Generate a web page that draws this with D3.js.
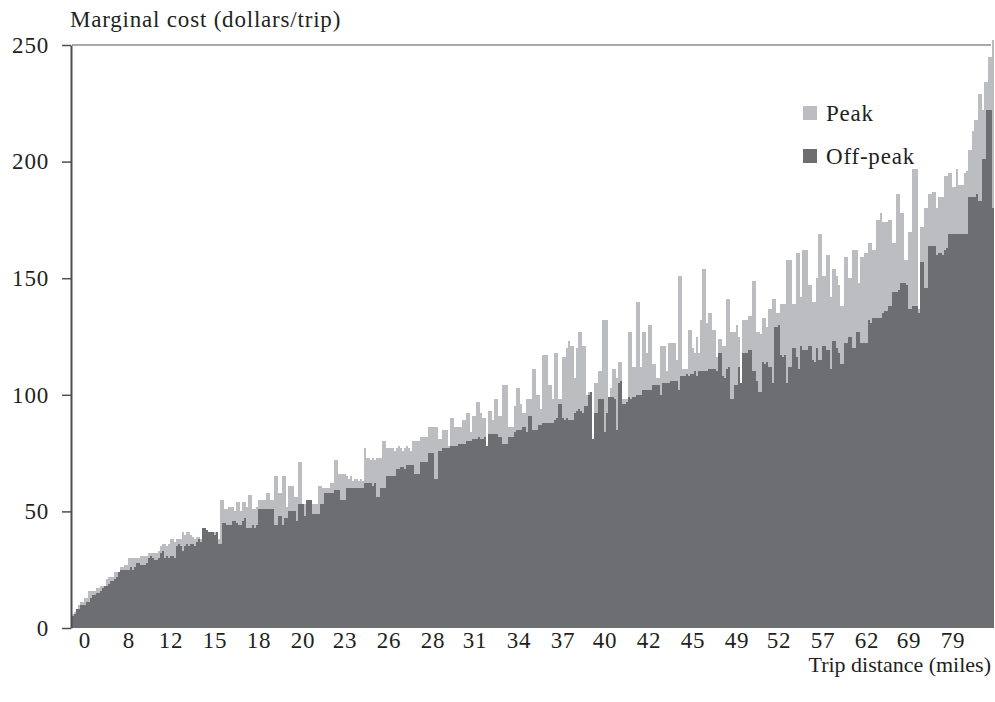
<!DOCTYPE html>
<html>
<head>
<meta charset="utf-8">
<script src="https://cdn.jsdelivr.net/npm/d3@7"></script>
<style>
  body { margin: 0; background: #fff; }
  text { font-family: "Liberation Serif", "DejaVu Serif", serif; fill: #231f20; }
</style>
</head>
<body>
<div id="chart"></div>
<script>
// marginal cost per trip, one bar per trip, sorted by distance
const peak = [
  6, 7, 8, 10, 11, 11, 13, 13, 16, 16,
  16, 16, 17, 17, 18, 18, 18, 21, 22, 22,
  22, 24, 24, 24, 26, 26, 27, 27, 30, 30,
  30, 30, 30, 30, 31, 31, 31, 31, 32, 32,
  32, 32, 32, 33, 35, 36, 36, 35, 36, 38,
  38, 37, 38, 38, 38, 41, 40, 41, 41, 40,
  39, 38, 39, 39, 38, 43, 43, 42, 41, 41,
  41, 41, 41, 38, 55, 55, 51, 51, 52, 52,
  52, 50, 54, 54, 50, 54, 54, 52, 57, 57,
  51, 51, 52, 55, 55, 55, 55, 58, 58, 55,
  55, 65, 65, 58, 58, 65, 65, 52, 61, 61,
  61, 56, 56, 71, 71, 53, 53, 55, 55, 55,
  53, 53, 53, 61, 61, 60, 60, 60, 60, 62,
  62, 72, 72, 66, 66, 66, 66, 65, 64, 65,
  63, 64, 64, 63, 64, 63, 77, 73, 73, 72,
  73, 72, 73, 73, 73, 80, 80, 77, 77, 77,
  77, 76, 77, 78, 77, 76, 77, 78, 77, 76,
  80, 80, 80, 80, 82, 82, 82, 82, 86, 86,
  86, 86, 86, 81, 81, 85, 85, 85, 78, 90,
  90, 86, 86, 86, 86, 89, 89, 92, 92, 84,
  91, 91, 97, 97, 92, 90, 90, 78, 93, 93,
  89, 98, 98, 91, 91, 104, 104, 104, 86, 86,
  86, 95, 103, 103, 96, 92, 92, 98, 98, 98,
  111, 111, 100, 100, 94, 117, 117, 117, 104, 104,
  98, 118, 118, 98, 98, 116, 116, 120, 123, 121,
  121, 107, 120, 127, 127, 121, 121, 100, 101, 101,
  81, 105, 105, 110, 110, 132, 132, 132, 99, 103,
  111, 111, 107, 114, 114, 98, 98, 98, 127, 127,
  112, 112, 140, 140, 112, 127, 127, 118, 130, 130,
  113, 113, 107, 107, 121, 121, 121, 110, 122, 122,
  122, 122, 115, 151, 151, 111, 111, 111, 128, 128,
  120, 118, 125, 118, 132, 154, 154, 131, 135, 135,
  128, 128, 116, 124, 124, 121, 121, 141, 141, 127,
  127, 127, 130, 125, 105, 132, 132, 132, 134, 134,
  149, 149, 127, 127, 126, 133, 133, 129, 137, 137,
  141, 141, 135, 135, 139, 139, 139, 158, 158, 158,
  139, 139, 161, 161, 142, 162, 162, 162, 147, 147,
  140, 140, 150, 169, 169, 151, 151, 160, 160, 142,
  154, 154, 151, 147, 138, 138, 159, 159, 150, 150,
  162, 162, 162, 148, 159, 159, 161, 161, 165, 165,
  162, 162, 175, 175, 178, 174, 174, 174, 175, 175,
  165, 165, 186, 186, 178, 178, 158, 158, 170, 170,
  197, 197, 197, 137, 172, 172, 180, 180, 186, 186,
  187, 187, 180, 185, 185, 185, 194, 194, 195, 195,
  189, 189, 197, 190, 190, 190, 195, 196, 205, 205,
  213, 218, 218, 229, 229, 222, 234, 234, 245, 245, 252
];

const offPeak = [
  5, 6, 8, 8, 10, 10, 10, 11, 11, 13,
  14, 14, 15, 15, 16, 17, 18, 18, 19, 20,
  20, 21, 22, 24, 25, 25, 25, 25, 25, 26,
  25, 26, 28, 28, 27, 27, 27, 28, 30, 31,
  30, 29, 29, 30, 32, 33, 30, 31, 30, 31,
  31, 30, 35, 36, 35, 33, 35, 36, 35, 36,
  36, 35, 37, 38, 37, 43, 43, 42, 41, 41,
  41, 40, 41, 36, 36, 45, 45, 44, 44, 44,
  46, 46, 45, 44, 44, 46, 47, 43, 43, 43,
  44, 43, 44, 51, 51, 51, 51, 51, 51, 51,
  51, 44, 44, 48, 48, 44, 47, 47, 50, 50,
  50, 50, 46, 53, 53, 53, 48, 55, 55, 55,
  49, 49, 49, 49, 53, 53, 58, 58, 58, 58,
  58, 59, 59, 59, 55, 55, 55, 60, 60, 60,
  60, 60, 60, 60, 60, 60, 62, 62, 62, 62,
  61, 62, 56, 56, 60, 60, 60, 65, 65, 65,
  65, 65, 68, 68, 69, 69, 68, 70, 70, 70,
  70, 66, 66, 66, 71, 71, 71, 71, 75, 75,
  75, 64, 64, 76, 76, 77, 77, 77, 77, 78,
  78, 78, 78, 79, 79, 79, 79, 80, 80, 80,
  81, 81, 81, 82, 81, 81, 82, 78, 83, 83,
  83, 83, 83, 82, 82, 79, 79, 79, 82, 82,
  82, 84, 85, 85, 85, 86, 86, 84, 91, 91,
  85, 85, 85, 87, 87, 88, 88, 88, 88, 88,
  88, 89, 90, 96, 96, 90, 89, 90, 89, 89,
  89, 92, 93, 94, 93, 92, 95, 95, 100, 101,
  81, 92, 92, 98, 98, 98, 84, 92, 99, 99,
  99, 98, 85, 105, 106, 96, 96, 97, 99, 98,
  99, 99, 100, 100, 100, 102, 102, 102, 102, 102,
  104, 104, 104, 104, 100, 105, 105, 105, 105, 106,
  106, 106, 106, 102, 108, 108, 108, 109, 108, 109,
  109, 110, 108, 110, 110, 110, 110, 110, 111, 111,
  111, 111, 110, 118, 118, 108, 107, 111, 112, 98,
  98, 104, 104, 112, 105, 118, 118, 118, 119, 119,
  110, 110, 106, 101, 101, 114, 113, 114, 112, 112,
  105, 129, 129, 130, 117, 116, 117, 105, 112, 112,
  120, 120, 116, 111, 121, 119, 119, 119, 121, 121,
  115, 114, 120, 115, 115, 121, 121, 119, 119, 111,
  123, 123, 120, 118, 113, 113, 122, 122, 125, 125,
  120, 120, 127, 127, 122, 122, 122, 122, 132, 131,
  133, 133, 133, 133, 133, 135, 136, 136, 138, 138,
  144, 144, 144, 145, 148, 148, 148, 147, 137, 137,
  138, 138, 138, 135, 157, 157, 146, 146, 164, 164,
  164, 164, 160, 161, 161, 160, 162, 163, 169, 169,
  169, 169, 169, 169, 169, 169, 169, 169, 185, 185,
  185, 185, 186, 183, 183, 201, 201, 222, 222, 222, 180
];

const tickLabels = ["0", "8", "12", "15", "18", "20", "23", "26", "28", "31", "34",
  "37", "40", "42", "45", "49", "52", "57", "62", "69", "79"];
const yTicks = [0, 50, 100, 150, 200, 250];
const seriesNames = ["Peak", "Off-peak"];

const W = 995, H = 702;
const plot = { left: 72, right: 994, top: 45, bottom: 628 };
const colPeak = "#bcbdc0", colOff = "#6d6e71";
const fontSize = "23px";

const n = Math.min(peak.length, offPeak.length);

const svg = d3.select("#chart").append("svg")
  .attr("width", W)
  .attr("height", H)
  .style("display", "block");

const x = d3.scaleBand()
  .domain(d3.range(n))
  .range([plot.left, plot.right])
  .padding(0);

const y = d3.scaleLinear()
  .domain([0, 250])
  .range([plot.bottom, plot.top]);

// frame line along the top
svg.append("line")
  .attr("x1", plot.left).attr("x2", 991)
  .attr("y1", plot.top).attr("y2", plot.top)
  .attr("stroke", "#8d8d90")
  .attr("stroke-width", 1.5);

// peak bars behind, off-peak in front
svg.append("g")
  .attr("shape-rendering", "crispEdges")
  .selectAll("rect")
  .data(peak.slice(0, n))
  .join("rect")
  .attr("x", (d, i) => x(i))
  .attr("width", x.bandwidth() + 0.3)
  .attr("y", d => y(d))
  .attr("height", d => y(0) - y(d))
  .attr("fill", colPeak);

svg.append("g")
  .attr("shape-rendering", "crispEdges")
  .selectAll("rect")
  .data(offPeak.slice(0, n))
  .join("rect")
  .attr("x", (d, i) => x(i))
  .attr("width", x.bandwidth() + 0.3)
  .attr("y", d => y(d))
  .attr("height", d => y(0) - y(d))
  .attr("fill", colOff);

// y axis
const yAxis = svg.append("g")
  .attr("transform", `translate(${plot.left - 1},0)`)
  .call(d3.axisLeft(y).tickValues(yTicks).tickSize(9).tickSizeOuter(0).tickPadding(13));
yAxis.select(".domain").attr("stroke", "#4f4f52").attr("stroke-width", 2);
yAxis.selectAll(".tick line").attr("stroke", "#4f4f52").attr("stroke-width", 1.5);
yAxis.selectAll(".tick text")
  .style("font-size", fontSize)
  .style("font-family", "'Liberation Serif', serif")
  .style("letter-spacing", "0.8px")
  .attr("fill", "#231f20");

// x axis labels, every ~22nd trip
const tickIdx = tickLabels.map((t, k) => Math.round(6 + k * 21.7));
const xAxis = svg.append("g")
  .attr("transform", `translate(0,${plot.bottom})`)
  .call(d3.axisBottom(x)
    .tickValues(tickIdx)
    .tickFormat((d, k) => tickLabels[k])
    .tickSize(0)
    .tickPadding(4));
xAxis.select(".domain").remove();
xAxis.selectAll(".tick text")
  .style("font-size", fontSize)
  .style("font-family", "'Liberation Serif', serif")
  .style("letter-spacing", "0.8px")
  .attr("fill", "#231f20");

// axis titles
svg.append("text")
  .attr("x", 70)
  .attr("y", 27)
  .style("font-size", fontSize)
  .style("letter-spacing", "0.8px")
  .text("Marginal cost (dollars/trip)");

svg.append("text")
  .attr("x", 991)
  .attr("y", 672)
  .attr("text-anchor", "end")
  .style("font-size", "22px")
  .text("Trip distance (miles)");

// legend
const legend = svg.append("g").attr("transform", "translate(803,106)");
seriesNames.forEach((name, i) => {
  legend.append("rect")
    .attr("x", 0)
    .attr("y", i * 43)
    .attr("width", 14)
    .attr("height", 14)
    .attr("fill", i === 0 ? colPeak : colOff);
  legend.append("text")
    .attr("x", 23)
    .attr("y", i * 43 + 7)
    .attr("dy", "0.35em")
    .style("font-size", fontSize)
    .style("letter-spacing", "0.8px")
    .text(name);
});
</script>
</body>
</html>
